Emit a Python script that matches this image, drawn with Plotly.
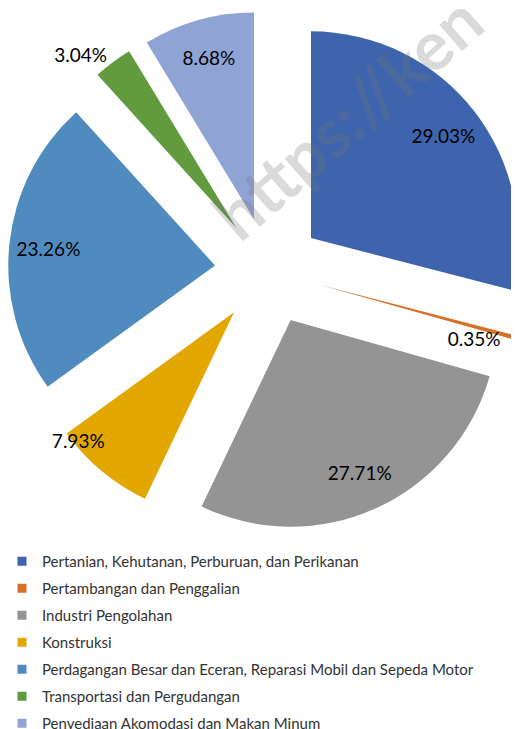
import plotly.graph_objects as go

categories = [
    "Pertanian, Kehutanan, Perburuan, dan Perikanan",
    "Pertambangan dan Penggalian",
    "Industri Pengolahan",
    "Konstruksi",
    "Perdagangan Besar dan Eceran, Reparasi Mobil dan Sepeda Motor",
    "Transportasi dan Pergudangan",
    "Penyediaan Akomodasi dan Makan Minum",
]
shares = [29.03, 0.35, 27.71, 7.93, 23.26, 3.04, 8.68]
colors = ["#3D64AD", "#D6702B", "#949494", "#E2A700", "#508BC0", "#619B3D", "#8FA4D5"]

W, H = 522, 729
PULL = 0.26
FONT = "Lato"

# pie box (figure px)
cx, cy, half = 260.5, 263, 260.5
dom_x = [(cx - half) / W, (cx + half) / W]
dom_y = [1 - (cy + half) / H, 1 - (cy - half) / H]

label_pos = ["inside", "inside", "inside", "inside", "inside", "outside", "inside"]
templates = ["%{value:.2f}%"] * len(shares)
templates[1] = "<br>%{value:.2f}%" + "\u00a0" * 18
templates[3] = "%{value:.2f}%" + "\u00a0" * 20

fig = go.Figure()
fig.add_trace(go.Pie(
    values=shares, labels=categories, sort=False, direction="clockwise", rotation=0,
    pull=PULL, marker=dict(colors=colors, line=dict(width=0)),
    textinfo="none", showlegend=False, hoverinfo="label+value",
    domain=dict(x=dom_x, y=dom_y),
))
fig.add_trace(go.Pie(
    values=shares, labels=categories, sort=False, direction="clockwise", rotation=0,
    pull=PULL, hole=0.62, marker=dict(colors=["rgba(0,0,0,0)"] * len(shares), line=dict(width=0)),
    texttemplate=templates, textposition=label_pos, insidetextorientation="horizontal",
    textfont=dict(family=FONT, size=19, color="#000000"),
    showlegend=False, hoverinfo="skip",
    domain=dict(x=dom_x, y=dom_y),
))

# legend entries
for name, col in zip(categories, colors):
    fig.add_trace(go.Scatter(
        x=[None], y=[None], mode="markers", name=name, legendgroup=name,
        marker=dict(symbol="square", size=9, color=col),
    ))

fig.add_annotation(
    text="https://ken", x=338 / W, y=1 - 108 / H, xref="paper", yref="paper",
    xanchor="center", yanchor="middle",
    showarrow=False, textangle=-41,
    font=dict(family=FONT, size=68, color="rgba(120,120,120,0.27)", weight="bold"),
)

fig.update_layout(
    width=W, height=H, margin=dict(l=0, r=0, t=0, b=0, autoexpand=False),
    paper_bgcolor="white", plot_bgcolor="white",
    xaxis=dict(visible=False), yaxis=dict(visible=False),
    uniformtext=dict(mode="show", minsize=19),
    legend=dict(
        x=-6 / W, y=1 - 537 / H, xanchor="left", yanchor="top",
        font=dict(family=FONT, size=15, color="#333333"),
        tracegroupgap=4.5, bgcolor="rgba(0,0,0,0)",
    ),
    showlegend=True,
)

fig.write_html("out.html")
